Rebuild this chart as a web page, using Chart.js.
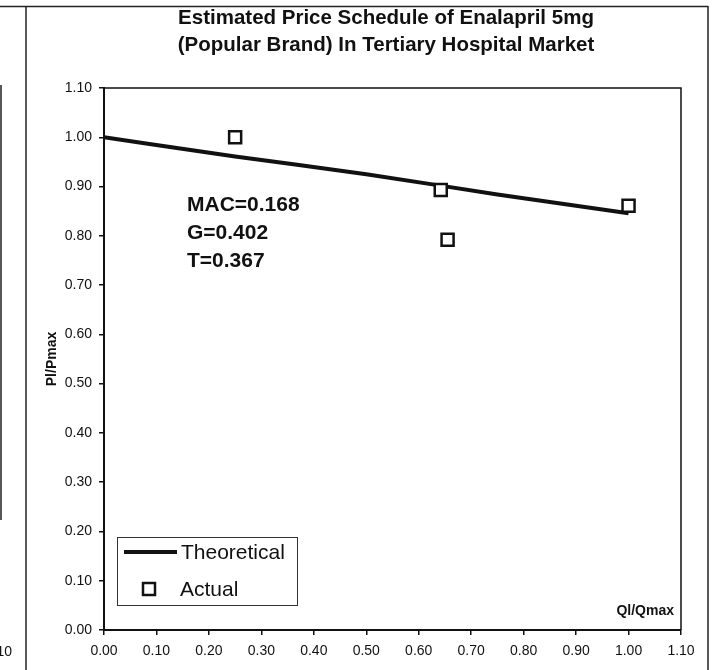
<!DOCTYPE html>
<html>
<head>
<meta charset="utf-8">
<script src="https://cdn.jsdelivr.net/npm/chart.js@4.4.1/dist/chart.umd.min.js"></script>
<style>
  html, body { margin: 0; padding: 0; background: #fff; }
  #wrap { width: 718px; height: 670px; }
</style>
</head>
<body>
<div id="wrap"><canvas id="priceChart" width="718" height="670"></canvas></div>
<script>
// ---- data ----
const titleLines = ['Estimated Price Schedule of Enalapril 5mg', '(Popular Brand) In Tertiary Hospital Market'];
const theoreticalX = [0.00, 0.25, 0.50, 0.75, 1.00];
const theoreticalY = [1.000, 0.961, 0.925, 0.884, 0.846];
const actualX = [0.25, 0.642, 0.655, 1.00];
const actualY = [1.00, 0.893, 0.792, 0.861];
const xTickValues = [0, 0.1, 0.2, 0.3, 0.4, 0.5, 0.6, 0.7, 0.8, 0.9, 1.0, 1.1];
const xTickLabels = ['0.00', '0.10', '0.20', '0.30', '0.40', '0.50', '0.60', '0.70', '0.80', '0.90', '1.00', '1.10'];
const yTickValues = [0, 0.1, 0.2, 0.3, 0.4, 0.5, 0.6, 0.7, 0.8, 0.9, 1.0, 1.1];
const yTickLabels = ['0.00', '0.10', '0.20', '0.30', '0.40', '0.50', '0.60', '0.70', '0.80', '0.90', '1.00', '1.10'];
const statLines = ['MAC=0.168', 'G=0.402', 'T=0.367'];
const seriesNames = ['Theoretical', 'Actual'];
const xAxisTitle = 'Ql/Qmax';
const yAxisTitle = 'Pl/Pmax';

const FONT = "'Liberation Sans', Arial, Helvetica, sans-serif";
const INK = '#111';
Chart.defaults.font.family = FONT;
Chart.defaults.color = INK;

// frame, title, stats text and the legend box are drawn here
const decorPlugin = {
    id: 'decor',
    beforeDraw(chart) {
        const ctx = chart.ctx;
        ctx.save();
        ctx.fillStyle = '#fff';
        ctx.fillRect(0, 0, chart.width, chart.height);
        ctx.restore();
    },
    afterDraw(chart) {
        const ctx = chart.ctx;
        const a = chart.chartArea;
        ctx.save();

        // outer page frame (scan)
        ctx.strokeStyle = '#222';
        ctx.lineWidth = 1.5;
        ctx.beginPath();
        ctx.moveTo(0, 6.5); ctx.lineTo(708, 6.5);
        ctx.moveTo(26, 6); ctx.lineTo(26, 670);
        ctx.moveTo(708, 6); ctx.lineTo(708, 670);
        ctx.moveTo(1, 85); ctx.lineTo(1, 520);
        ctx.stroke();

        // cut-off tick label of the neighbouring chart
        ctx.fillStyle = INK;
        ctx.font = '14px ' + FONT;
        ctx.textAlign = 'right';
        ctx.textBaseline = 'middle';
        ctx.fillText('1.10', 12, 652);

        // plot box top + right
        ctx.lineWidth = 1.5;
        ctx.strokeStyle = INK;
        ctx.beginPath();
        ctx.moveTo(a.left, a.top); ctx.lineTo(a.right, a.top); ctx.lineTo(a.right, a.bottom);
        ctx.stroke();

        // title
        ctx.textAlign = 'center';
        ctx.font = 'bold 20.5px ' + FONT;
        titleLines.forEach((t, i) => ctx.fillText(t, 386, 18 + i * 27));

        // MAC / G / T
        ctx.textAlign = 'left';
        ctx.font = 'bold 21px ' + FONT;
        statLines.forEach((t, i) => ctx.fillText(t, 187, 205 + i * 28));

        // x axis title, inside the plot
        ctx.textAlign = 'right';
        ctx.font = 'bold 14px ' + FONT;
        ctx.fillText(xAxisTitle, a.right - 7, a.bottom - 19);

        // legend
        const lx = a.left + 13, ly = a.bottom - 93, lw = 180, lh = 68;
        ctx.lineWidth = 1;
        ctx.strokeStyle = '#333';
        ctx.strokeRect(lx + 0.5, ly + 0.5, lw, lh);
        ctx.strokeStyle = INK;
        ctx.lineWidth = 4;
        ctx.beginPath();
        ctx.moveTo(lx + 7, ly + 15); ctx.lineTo(lx + 60, ly + 15);
        ctx.stroke();
        ctx.lineWidth = 2.5;
        ctx.fillStyle = '#fff';
        ctx.fillRect(lx + 26, ly + 46, 12, 12);
        ctx.strokeRect(lx + 26, ly + 46, 12, 12);
        ctx.fillStyle = INK;
        ctx.textAlign = 'left';
        ctx.font = '21px ' + FONT;
        ctx.fillText(chart.data.datasets[0].label, lx + 64, ly + 16);
        ctx.fillText(chart.data.datasets[1].label, lx + 63, ly + 53);

        ctx.restore();
    }
};

const ctx = document.getElementById('priceChart').getContext('2d');

const priceChart = new Chart(ctx, {
    type: 'scatter',
    data: {
        datasets: [
            {
                label: seriesNames[0],
                data: theoreticalX.map((x, i) => ({ x: x, y: theoreticalY[i] })),
                showLine: true,
                borderColor: INK,
                borderWidth: 4,
                pointRadius: 0,
                cubicInterpolationMode: 'monotone',
                order: 2
            },
            {
                label: seriesNames[1],
                data: actualX.map((x, i) => ({ x: x, y: actualY[i] })),
                showLine: false,
                pointStyle: 'rect',
                pointRadius: 8.5,
                pointBorderWidth: 2.5,
                borderColor: INK,
                backgroundColor: '#fff',
                order: 1
            }
        ]
    },
    options: {
        responsive: false,
        animation: false,
        devicePixelRatio: 1,
        layout: { padding: { top: 88, right: 37, bottom: 0, left: 0 } },
        plugins: {
            legend: { display: false },
            title: { display: false },
            tooltip: { enabled: false }
        },
        scales: {
            x: {
                type: 'linear',
                min: 0,
                max: 1.1,
                afterBuildTicks: s => { s.ticks = xTickValues.map(v => ({ value: v })); },
                afterFit: s => { s.height = 40; },
                ticks: {
                    callback: (v, i) => xTickLabels[i],
                    font: { size: 14 },
                    color: INK,
                    padding: 8,
                    maxRotation: 0,
                    autoSkip: false
                },
                grid: { drawOnChartArea: false, tickLength: 5, color: INK, lineWidth: 1.5 },
                border: { display: true, color: INK, width: 2 }
            },
            y: {
                type: 'linear',
                min: 0,
                max: 1.1,
                afterBuildTicks: s => { s.ticks = yTickValues.map(v => ({ value: v })); },
                afterFit: s => { s.width = 104; },
                ticks: {
                    callback: (v, i) => yTickLabels[i],
                    font: { size: 14 },
                    color: INK,
                    padding: 7,
                    autoSkip: false
                },
                title: {
                    display: true,
                    text: yAxisTitle,
                    font: { size: 14, weight: 'bold' },
                    color: INK,
                    padding: { top: 44, bottom: 0 }
                },
                grid: { drawOnChartArea: false, tickLength: 5, color: INK, lineWidth: 1.5 },
                border: { display: true, color: INK, width: 2 }
            }
        }
    },
    plugins: [decorPlugin]
});
</script>
</body>
</html>
